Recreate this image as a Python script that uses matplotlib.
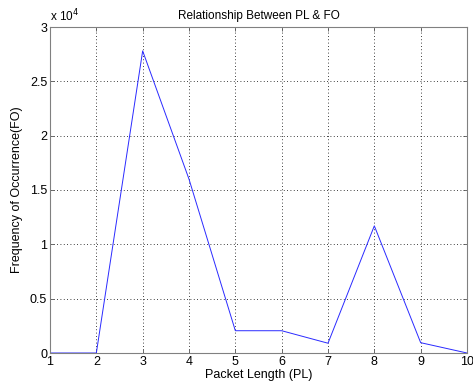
import matplotlib
matplotlib.use("Agg")
import matplotlib.pyplot as plt

# packet length vs. frequency of occurrence
packet_length = [1, 2, 3, 4, 5, 6, 7, 8, 9, 10]
frequency = [0, 0, 27800, 16000, 2050, 2050, 900, 11700, 950, 0]

y_ticks = [0, 5000, 10000, 15000, 20000, 25000, 30000]
y_tick_labels = ['0', '0.5', '1', '1.5', '2', '2.5', '3']

plt.rcParams['font.family'] = ['Liberation Sans', 'DejaVu Sans']

fig = plt.figure(figsize=(4.73, 3.9), dpi=100)
ax = fig.add_axes([50 / 473, 37 / 390, 417 / 473, 326 / 390])

ax.plot(packet_length, frequency, color='#2a2aff', linewidth=0.7)

ax.set_xlim(1, 10)
ax.set_ylim(0, 30000)
ax.set_xticks(packet_length)
ax.set_yticks(y_ticks)
ax.set_yticklabels(y_tick_labels)

ax.grid(True, color='black', linestyle=(0, (1, 3)), linewidth=0.6)
ax.tick_params(direction='in', top=True, right=True, labelsize=9,
               length=3, width=0.6, color='#555555', pad=2)
for s in ax.spines.values():
    s.set_color('#808080')
    s.set_linewidth(0.8)

ax.text(0, 1.008, r'x 10$^4$', transform=ax.transAxes, fontsize=8.5,
        ha='left', va='bottom')
ax.set_title('Relationship Between PL & FO', fontsize=8.5, pad=6)
ax.set_xlabel('Packet Length (PL)', fontsize=9, labelpad=1)
ax.set_ylabel('Frequency of Occurrence(FO)', fontsize=9, labelpad=5)

fig.savefig('out.png', dpi=100, facecolor='white')
